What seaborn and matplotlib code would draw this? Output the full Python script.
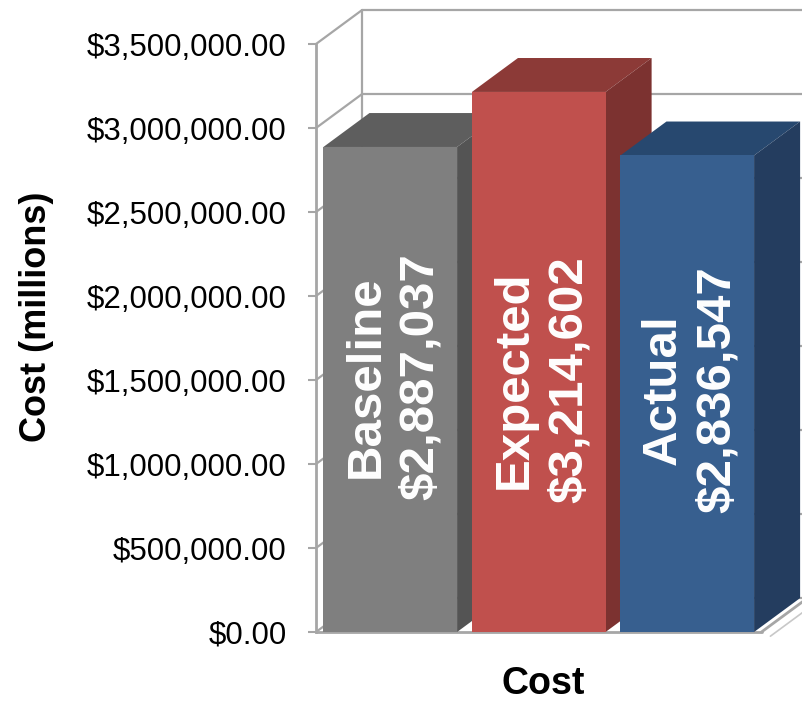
import seaborn as sns
import matplotlib.pyplot as plt
import pandas as pd
from matplotlib.patches import Polygon
from matplotlib.ticker import FuncFormatter, MultipleLocator

# -- DATA -- #
categories = ['Baseline', 'Expected', 'Actual']
costs = [2887037, 3214602, 2836547]
front_colors = ['#7f7f7f', '#c0504d', '#375f8f']
top_colors = ['#5e5e5e', '#8c3a37', '#27486f']
side_colors = ['#545454', '#7c3230', '#243d5f']
label_y = [1520000, 1500000, 1440000]

sns.set_style('white')
plt.rcParams['font.family'] = ['Liberation Sans', 'DejaVu Sans']
plt.rcParams['text.color'] = 'black'
plt.rcParams['axes.labelcolor'] = 'black'

# 3D depth offset (data units)
dx, dy = 0.31, 202000
ymax = 3500000
grid_color = '#a6a6a6'

fig = plt.figure(figsize=(8.02, 7.02), dpi=100)
ax = fig.add_axes([316 / 802, 70 / 702, 445.5 / 802, 588 / 702])

df = pd.DataFrame({'category': categories, 'cost': costs})
sns.barplot(data=df, x='category', y='cost', hue='category', palette=front_colors,
            width=0.9, saturation=1, legend=False, ax=ax)

ax.set_xlim(-0.5, 2.5)
ax.set_ylim(0, ymax)

# back wall + side wall gridlines
ticks = list(range(0, ymax + 1, 500000))
for v in ticks:
    ax.plot([-0.5 + dx, 5], [v + dy, v + dy], color=grid_color, lw=1.6, clip_on=False, zorder=0)
    ax.plot([-0.5, -0.5 + dx], [v, v + dy], color=grid_color, lw=1.6, clip_on=False, zorder=0)
ax.plot([-0.5 + dx, -0.5 + dx], [dy, ymax + dy], color=grid_color, lw=1.6, clip_on=False, zorder=0)

# floor edges
ax.plot([-0.5, 2.5], [0, 0], color=grid_color, lw=2, clip_on=False, zorder=1)
ax.plot([2.5, 2.5 + dx], [0, dy], color=grid_color, lw=2, clip_on=False, zorder=1)
ax.plot([2.56, 2.56 + dx], [-25000, dy - 25000], color='#c8c8c8', lw=1.2, clip_on=False, zorder=1)

# 3D faces of the bars
for i, bar in enumerate(ax.patches):
    x0 = bar.get_x()
    x1 = x0 + bar.get_width()
    h = bar.get_height()
    top = Polygon([(x0, h), (x1, h), (x1 + dx, h + dy), (x0 + dx, h + dy)],
                  closed=True, facecolor=top_colors[i], edgecolor='none',
                  clip_on=False, zorder=2 + 2 * i)
    side = Polygon([(x1, 0), (x1, h), (x1 + dx, h + dy), (x1 + dx, dy)],
                   closed=True, facecolor=side_colors[i], edgecolor='none',
                   clip_on=False, zorder=2 + 2 * i)
    ax.add_patch(top)
    ax.add_patch(side)
    bar.set_zorder(3 + 2 * i)
    bar.set_edgecolor('none')
    ax.text(i + 0.02, label_y[i], f'{categories[i]}\n${costs[i]:,}', rotation=90,
            ha='center', va='center', color='white', fontsize=35.5,
            fontweight='bold', linespacing=1.28, zorder=20)

# axes styling
for s in ['top', 'right', 'bottom']:
    ax.spines[s].set_visible(False)
ax.spines['left'].set_color(grid_color)
ax.spines['left'].set_linewidth(2)
ax.spines['left'].set_zorder(1)
ax.yaxis.set_major_locator(MultipleLocator(500000))
ax.yaxis.set_major_formatter(FuncFormatter(lambda v, p: f'${v:,.2f}'))
ax.tick_params(axis='y', left=True, length=6, width=1.5, color=grid_color,
               labelsize=22.5, pad=15, labelcolor='black')
ax.tick_params(axis='x', bottom=False, labelbottom=False)

ax.set_ylabel('Cost (millions)', fontsize=26, fontweight='bold', color='black')
ax.yaxis.label.set_va('center')
ax.yaxis.set_label_coords(-0.628, 0.536)
ax.set_xlabel('Cost', fontsize=27, fontweight='bold', color='black')
ax.xaxis.label.set_va('center')
ax.xaxis.set_label_coords(0.51, -0.088)

plt.savefig('out.png', dpi=100)
